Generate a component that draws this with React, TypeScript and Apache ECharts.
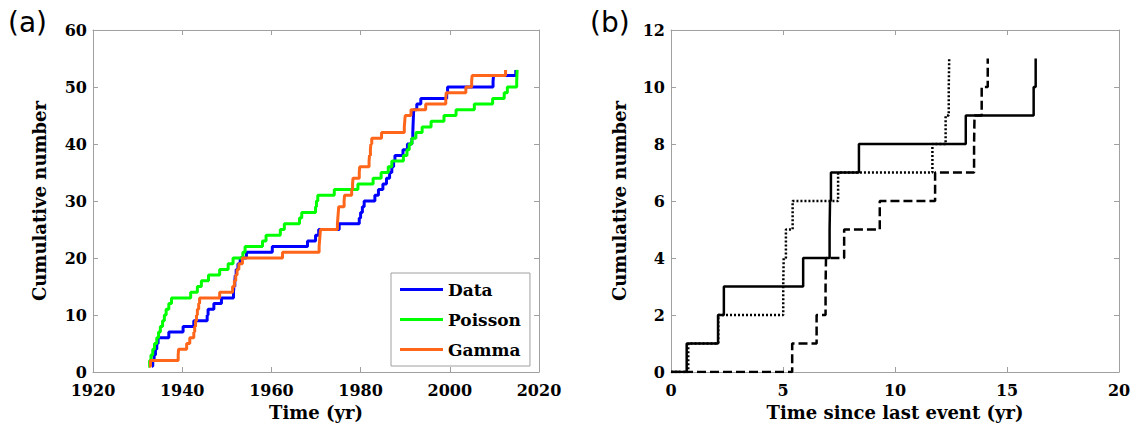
import React, { useEffect, useRef } from "react";
import * as echarts from "echarts";

// Panel (a): year at which the cumulative number reaches 1, 2, 3, ...
const dataYears = [
  1933.2, 1933.4, 1933.7, 1934.0, 1934.3, 1934.6, 1937.0, 1940.2, 1942.6, 1945.6,
  1945.8, 1947.1, 1948.8, 1951.5, 1951.6, 1951.8, 1951.9, 1952.1, 1952.5, 1953.0,
  1954.4, 1960.2, 1968.1, 1969.9, 1970.6, 1975.2, 1979.7, 1980.0, 1980.4, 1980.8,
  1983.2, 1984.0, 1985.0, 1985.8, 1986.5, 1987.0, 1987.4, 1987.7, 1989.5, 1990.5,
  1991.5, 1991.7, 1991.75, 1991.8, 1991.85, 1991.9, 1992.6, 1993.5, 1999.3, 1999.5,
  2009.7, 2009.8, 2014.8,
];
const poissonYears = [
  1932.4, 1932.7, 1933.0, 1933.4, 1933.8, 1934.3, 1934.7, 1935.1, 1935.6, 1936.0,
  1936.4, 1937.0, 1937.6, 1941.9, 1943.4, 1944.3, 1945.9, 1948.4, 1950.3, 1951.4,
  1953.6, 1954.1, 1958.0, 1958.8, 1962.0, 1962.9, 1966.3, 1966.8, 1969.9, 1970.1,
  1970.4, 1974.1, 1979.4, 1982.8, 1984.6, 1986.2, 1987.0, 1989.6, 1990.4, 1990.9,
  1991.5, 1992.4, 1993.8, 1995.8, 1998.7, 2001.4, 2005.5, 2009.6, 2012.2, 2012.9,
  2015.0, 2015.05, 2015.1,
];
const gammaYears = [
  1932.6, 1932.9, 1939.1, 1939.2, 1941.0, 1941.7, 1942.6, 1942.8, 1943.0, 1943.2,
  1943.4, 1943.7, 1943.9, 1948.4, 1951.3, 1951.7, 1952.0, 1952.3, 1952.7, 1953.5,
  1962.5, 1970.7, 1970.8, 1970.9, 1971.0, 1974.8, 1974.9, 1975.0, 1975.1, 1976.3,
  1976.4, 1978.0, 1978.2, 1978.3, 1979.7, 1979.8, 1981.9, 1982.0, 1982.2, 1982.3,
  1982.5, 1984.7, 1989.8, 1989.9, 1990.0, 1991.3, 1994.6, 1999.1, 1999.2, 2003.6,
  2004.9, 2005.0, 2012.5,
];

// Panel (b): time since last event at which the cumulative number reaches 1..11
const solidTimes = [0.7, 2.1, 2.36, 5.9, 7.08, 7.1, 7.14, 8.39, 13.16, 16.19, 16.28];
const dottedTimes = [0.77, 2.11, 5.01, 5.03, 5.13, 5.43, 7.46, 11.67, 12.26, 12.4, 12.42];
const dashedTimes = [5.41, 6.5, 6.9, 6.92, 7.73, 9.32, 11.79, 13.53, 13.55, 13.87, 14.14];

// Axis ticks
const yearTicks = { min: 1920, max: 2020, interval: 20 };
const countTicksA = { min: 0, max: 60, interval: 10 };
const timeTicks = { min: 0, max: 20, interval: 5 };
const countTicksB = { min: 0, max: 12, interval: 2 };

const cumulative = (times: number[]) => times.map((t, i) => [t, i + 1]);
const cumulativeFromZero = (times: number[]) => [[0, 0], ...cumulative(times)];

const FRAME = "#a0a0a0";
const SERIF = "DejaVu Serif";

export default function App() {
  const ref = useRef<HTMLDivElement>(null);

  useEffect(() => {
    if (!ref.current) return;
    const chart = echarts.init(ref.current, null, { renderer: "svg" });

    const baseLabel = {
      fontFamily: SERIF,
      fontWeight: "bold" as const,
      fontSize: 16,
      color: "#000",
      formatter: (v: number) => String(v),
    };
    const xLabel = { ...baseLabel, margin: 10 };
    const yLabel = { ...baseLabel, margin: 6 };
    const nameStyle = { fontFamily: SERIF, fontWeight: "bold" as const, fontSize: 18, color: "#000" };
    const line = { show: true, lineStyle: { color: FRAME, width: 1 } };
    const tick = { show: true, inside: true, length: 5, lineStyle: { color: FRAME } };

    const mkAxis = (
      gridIndex: number,
      position: string,
      rng: { min: number; max: number; interval: number },
      labels: any,
      name?: string,
      nameGap?: number,
      rotate?: number
    ) => ({
      type: "value",
      gridIndex,
      position,
      min: rng.min,
      max: rng.max,
      interval: rng.interval,
      axisLine: { ...line, onZero: false },
      axisTick: tick,
      splitLine: { show: false },
      axisLabel: labels ? labels : { show: false },
      name: name,
      nameLocation: "middle",
      nameGap: nameGap,
      nameRotate: rotate,
      nameTextStyle: nameStyle,
    });

    const option: any = {
      animation: false,
      backgroundColor: "#fff",
      grid: [
        { left: 93, right: 601, top: 30, bottom: 64 },
        { left: 671, right: 21, top: 30, bottom: 64 },
      ],
      xAxis: [
        mkAxis(0, "bottom", yearTicks, xLabel, "Time (yr)", 31),
        mkAxis(0, "top", yearTicks, null),
        mkAxis(1, "bottom", timeTicks, xLabel, "Time since last event (yr)", 31),
        mkAxis(1, "top", timeTicks, null),
      ],
      yAxis: [
        mkAxis(0, "left", countTicksA, yLabel, "Cumulative number", 45, 90),
        mkAxis(0, "right", countTicksA, null),
        mkAxis(1, "left", countTicksB, yLabel, "Cumulative number", 43, 90),
        mkAxis(1, "right", countTicksB, null),
      ],
      legend: {
        data: ["Data", "Poisson", "Gamma"],
        orient: "vertical",
        left: 391,
        top: 273,
        icon: "rect",
        itemWidth: 43,
        itemHeight: 3,
        itemGap: 13,
        padding: [8, 9, 8, 9],
        borderColor: FRAME,
        borderWidth: 1,
        backgroundColor: "#fff",
        textStyle: { fontFamily: SERIF, fontWeight: "bold", fontSize: 17, color: "#000" },
      },
      series: [
        {
          name: "Data",
          type: "line",
          xAxisIndex: 0,
          yAxisIndex: 0,
          step: "end",
          showSymbol: false,
          color: "#0000ff",
          lineStyle: { width: 3, color: "#0000ff" },
          data: cumulative(dataYears),
        },
        {
          name: "Poisson",
          type: "line",
          xAxisIndex: 0,
          yAxisIndex: 0,
          step: "end",
          showSymbol: false,
          color: "#00ff00",
          lineStyle: { width: 3, color: "#00ff00" },
          data: cumulative(poissonYears),
        },
        {
          name: "Gamma",
          type: "line",
          xAxisIndex: 0,
          yAxisIndex: 0,
          step: "end",
          showSymbol: false,
          color: "#ff661a",
          lineStyle: { width: 3, color: "#ff661a" },
          data: cumulative(gammaYears),
        },
        {
          name: "dashed",
          type: "line",
          xAxisIndex: 2,
          yAxisIndex: 2,
          step: "end",
          showSymbol: false,
          lineStyle: { width: 2.5, color: "#000", type: [9, 4] },
          data: cumulativeFromZero(dashedTimes),
        },
        {
          name: "dotted",
          type: "line",
          xAxisIndex: 2,
          yAxisIndex: 2,
          step: "end",
          showSymbol: false,
          lineStyle: { width: 2.5, color: "#000", type: [2, 2] },
          data: cumulativeFromZero(dottedTimes),
        },
        {
          name: "solid",
          type: "line",
          xAxisIndex: 2,
          yAxisIndex: 2,
          step: "end",
          showSymbol: false,
          lineStyle: { width: 2.5, color: "#000" },
          data: cumulativeFromZero(solidTimes),
        },
      ],
      graphic: [
        {
          type: "text",
          left: 8,
          top: 8,
          style: { text: "(a)", fontFamily: "DejaVu Sans", fontSize: 28, fill: "#000" },
        },
        {
          type: "text",
          left: 590,
          top: 8,
          style: { text: "(b)", fontFamily: "DejaVu Sans", fontSize: 28, fill: "#000" },
        },
      ],
    };

    chart.setOption(option);
    return () => chart.dispose();
  }, []);

  return (
    <div
      ref={ref}
      style={{ position: "fixed", left: 0, top: 0, width: 1140, height: 436, background: "#fff" }}
    />
  );
}
